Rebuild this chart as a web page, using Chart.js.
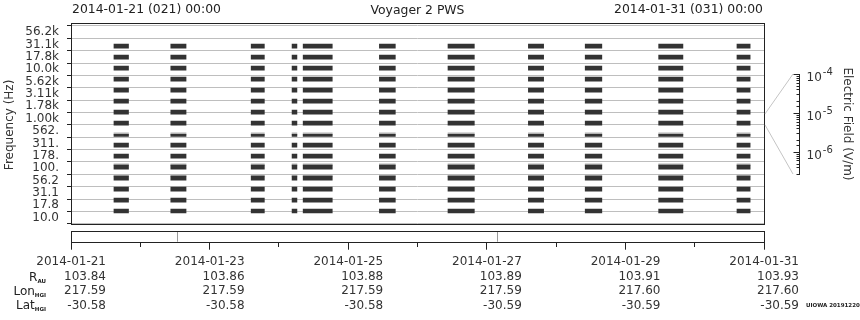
<!DOCTYPE html>
<html>
<head>
<meta charset="utf-8">
<title>Voyager 2 PWS</title>
<script src="https://cdn.jsdelivr.net/npm/chart.js@4.4.1/dist/chart.umd.min.js"></script>
<style>
body { margin: 0; background: #fff; font-family: "DejaVu Sans", sans-serif; color: #222; }
#wrap { position: relative; width: 860px; height: 320px; overflow: hidden; }
canvas { position: absolute; }
.txt { position: absolute; font-size: 12.4px; line-height: 14px; white-space: nowrap; }
.eph { position: absolute; left: 0; width: 46px; text-align: right; font-size: 12px; line-height: 14px; }
.eph sub { font-size: 5.5px; font-weight: bold; vertical-align: -2px; }
.stamp { position: absolute; left: 806px; top: 302px; font-size: 5.5px; font-weight: bold; white-space: nowrap; }
</style>
</head>
<body>
<div id="wrap">
  <canvas id="mainChart" width="860" height="239" style="left:0;top:0"></canvas>
  <canvas id="scaleChart" width="96" height="228" style="left:764px;top:0"></canvas>
  <canvas id="stripChart" width="860" height="92" style="left:0;top:228px"></canvas>

  <div class="txt" style="left:72px;top:2px">2014-01-21 (021) 00:00</div>
  <div class="txt" style="left:0;width:835px;text-align:center;top:3px">Voyager 2 PWS</div>
  <div class="txt" style="right:97px;top:2px">2014-01-31 (031) 00:00</div>

  <div class="eph" style="top:270px">R<sub>AU</sub></div>
  <div class="eph" style="top:284px">Lon<sub>HGI</sub></div>
  <div class="eph" style="top:298px">Lat<sub>HGI</sub></div>
  <div class="stamp">UIOWA 20191220</div>
</div>

<script>
// Frequency channels, top to bottom
const freqLabels = ['56.2k', '31.1k', '17.8k', '10.0k', '5.62k', '3.11k', '1.78k', '1.00k',
                    '562.', '311.', '178.', '100.', '56.2', '31.1', '17.8', '10.0'];

// Observation segments, days since 2014-01-21 00:00
const segStart = [0.62, 1.44, 2.60, 3.19, 3.35, 4.45, 5.44, 6.60, 7.42, 8.48, 9.61];
const segEnd   = [0.83, 1.66, 2.79, 3.26, 3.77, 4.68, 5.82, 6.82, 7.66, 8.83, 9.80];

// Channels that only show weak signal (thin trace) / a faint fringe
const thinChannels = [8];
const fringeChannels = [8, 11, 12];

// Ephemeris, one entry per labelled day (every 2 days)
const dateLabels = ['2014-01-21', '2014-01-23', '2014-01-25', '2014-01-27', '2014-01-29', '2014-01-31'];
const rAU    = [103.84, 103.86, 103.88, 103.89, 103.91, 103.93];
const lonHGI = [217.59, 217.59, 217.59, 217.59, 217.60, 217.60];
const latHGI = [-30.58, -30.58, -30.58, -30.59, -30.59, -30.59];

// Markers in the time strip (days)
const stripMarks = [1.53, 6.14];

// Colour bar range (V/m) and the channel it refers to
const fieldMin = 2.7e-7;
const fieldMax = 1e-4;
const scaleChannel = 7;

const ROW_PX = 12.375;
const FONT = { family: 'DejaVu Sans', size: 12 };

function barsFor(channels, pxAboveLine) {
    const pts = [];
    channels.forEach(k => {
        segStart.forEach((s, i) => {
            pts.push({ x: [s, segEnd[i]], y: k + 1 - pxAboveLine / ROW_PX });
        });
    });
    return pts;
}

function fringeBars() {
    const pts = [];
    fringeChannels.forEach(k => {
        const h = thinChannels.includes(k) ? 2.5 : 4.8;
        segStart.forEach((s, i) => {
            pts.push({ x: [s, segEnd[i]], y: k + 1 - h / ROW_PX });
        });
    });
    return pts;
}

const allChannels = freqLabels.map((_, k) => k);
const fullChannels = allChannels.filter(k => !thinChannels.includes(k));

const barStyle = { type: 'bar', xAxisID: 'x', yAxisID: 'yb', grouped: false, borderWidth: 0 };

// Frame around the plot area
const framePlugin = {
    id: 'frame',
    afterDraw(chart) {
        const a = chart.chartArea, ctx = chart.ctx;
        ctx.save();
        ctx.strokeStyle = '#222';
        ctx.lineWidth = 1;
        ctx.strokeRect(Math.round(a.left) + 0.5, Math.round(a.top) - 2.5,
                       Math.round(a.right - a.left), Math.round(a.bottom - a.top) + 3);
        ctx.restore();
    }
};

const mainChart = new Chart(document.getElementById('mainChart'), {
    data: {
        datasets: [
            { ...barStyle, data: barsFor(fullChannels, 2), barThickness: 4, backgroundColor: '#333333' },
            { ...barStyle, data: barsFor(thinChannels, 0.5), barThickness: 2, backgroundColor: '#333333' },
            { ...barStyle, data: fringeBars(), barThickness: 1.5, backgroundColor: '#b4b4b4' }
        ]
    },
    options: {
        responsive: false,
        animation: false,
        indexAxis: 'y',
        layout: { padding: { left: 0, right: 96, top: 26, bottom: 0 } },
        plugins: { legend: { display: false }, tooltip: { enabled: false } },
        scales: {
            x: { type: 'linear', min: 0, max: 10, display: false },
            y: {
                type: 'category',
                labels: freqLabels,
                position: 'left',
                offset: true,
                grid: { offset: true, color: '#bebebe', tickColor: '#222', tickLength: 4 },
                border: { display: false },
                ticks: { autoSkip: false, padding: 8, color: '#333', font: FONT },
                title: { display: true, text: 'Frequency (Hz)', color: '#333', font: FONT, padding: { top: 3, bottom: 0 } },
                afterFit: s => { s.width = 71; }
            },
            yb: { type: 'linear', min: 0, max: 16, reverse: true, display: false }
        }
    },
    plugins: [framePlugin]
});

// Colour bar with connectors to the referenced channel
const scalePlugin = {
    id: 'colourbar',
    afterDraw(chart) {
        const ctx = chart.ctx, a = chart.chartArea, s = chart.scales.y;
        const yb = mainChart.scales.yb;
        ctx.save();
        // connectors
        ctx.strokeStyle = '#c4c4c4';
        ctx.lineWidth = 1;
        ctx.beginPath();
        ctx.moveTo(1, yb.getPixelForValue(scaleChannel));
        ctx.lineTo(a.left, a.top);
        ctx.moveTo(1, yb.getPixelForValue(scaleChannel + 1));
        ctx.lineTo(a.left, a.bottom);
        ctx.stroke();
        // axis line
        const ax = Math.round(a.right) + 0.5;
        ctx.strokeStyle = '#222';
        ctx.beginPath();
        ctx.moveTo(ax, Math.round(a.top));
        ctx.lineTo(ax, Math.round(a.bottom) + 1);
        ctx.stroke();
        // ticks and decade labels
        s.ticks.forEach(t => {
            const v = t.value;
            if (v < fieldMin * 0.999 || v > fieldMax * 1.001) return;
            const e = Math.log10(v);
            const major = Math.abs(e - Math.round(e)) < 1e-6;
            const y = Math.round(s.getPixelForValue(v)) + 0.5;
            const len = major ? 6 : 3;
            ctx.beginPath();
            ctx.moveTo(ax - len, y);
            ctx.lineTo(ax, y);
            ctx.stroke();
            if (major) {
                ctx.fillStyle = '#333';
                ctx.textBaseline = 'middle';
                ctx.textAlign = 'left';
                ctx.font = '12px "DejaVu Sans"';
                ctx.fillText('10', ax + 7, y + 3.5);
                const w = ctx.measureText('10').width;
                ctx.font = '10px "DejaVu Sans"';
                ctx.fillText(String(Math.round(e)), ax + 8 + w, y - 2);
            }
        });
        ctx.restore();
    }
};

new Chart(document.getElementById('scaleChart'), {
    type: 'scatter',
    data: { datasets: [] },
    options: {
        responsive: false,
        animation: false,
        layout: { padding: { left: 29, right: 0, top: 74, bottom: 54 } },
        plugins: { legend: { display: false }, tooltip: { enabled: false } },
        scales: {
            x: { type: 'linear', min: 0, max: 1, display: false },
            y: {
                type: 'logarithmic',
                position: 'right',
                min: fieldMin,
                max: fieldMax,
                grid: { display: false },
                border: { display: false },
                ticks: { display: false },
                title: { display: true, text: 'Electric Field (V/m)', color: '#333', font: FONT, padding: { top: 6, bottom: 0 } },
                afterFit: s => { s.width = 61; }
            }
        }
    },
    plugins: [scalePlugin]
});

// Time strip with ephemeris table
const stripPlugin = {
    id: 'strip',
    afterDraw(chart) {
        const ctx = chart.ctx, a = chart.chartArea, xs = chart.scales.x;
        ctx.save();
        ctx.strokeStyle = '#999';
        ctx.lineWidth = 1;
        stripMarks.forEach(d => {
            const x = Math.round(xs.getPixelForValue(d)) + 0.5;
            ctx.beginPath();
            ctx.moveTo(x, a.top);
            ctx.lineTo(x, a.bottom);
            ctx.stroke();
        });
        ctx.strokeStyle = '#222';
        ctx.strokeRect(Math.round(a.left) + 0.5, Math.round(a.top) + 0.5,
                       Math.round(a.right - a.left), Math.round(a.bottom - a.top));
        ctx.restore();
    }
};

new Chart(document.getElementById('stripChart'), {
    type: 'scatter',
    data: { datasets: [] },
    options: {
        responsive: false,
        animation: false,
        layout: { padding: { left: 71, right: 96, top: 3, bottom: 0 } },
        plugins: { legend: { display: false }, tooltip: { enabled: false } },
        scales: {
            y: { type: 'linear', min: 0, max: 1, display: false },
            x: {
                type: 'linear',
                min: 0,
                max: 10,
                position: 'bottom',
                grid: {
                    drawOnChartArea: false,
                    tickLength: 8,
                    tickColor: '#222',
                    tickBorderDash: ctx => (ctx.tick && ctx.tick.value % 2 ? [5, 20] : [])
                },
                border: { display: false },
                ticks: {
                    stepSize: 1,
                    autoSkip: false,
                    maxRotation: 0,
                    minRotation: 0,
                    align: 'end',
                    labelOffset: 35,
                    padding: 5,
                    color: '#333',
                    font: { family: 'DejaVu Sans', size: 12, lineHeight: 1.22 },
                    callback: v => {
                        if (v % 2 !== 0) return '';
                        const i = v / 2;
                        return [dateLabels[i], rAU[i].toFixed(2), lonHGI[i].toFixed(2), latHGI[i].toFixed(2)];
                    }
                },
                afterFit: s => {
                    s.height = 78.3;
                    s.paddingLeft = 0;
                    s.paddingRight = 0;
                }
            }
        }
    },
    plugins: [stripPlugin]
});
</script>
</body>
</html>
